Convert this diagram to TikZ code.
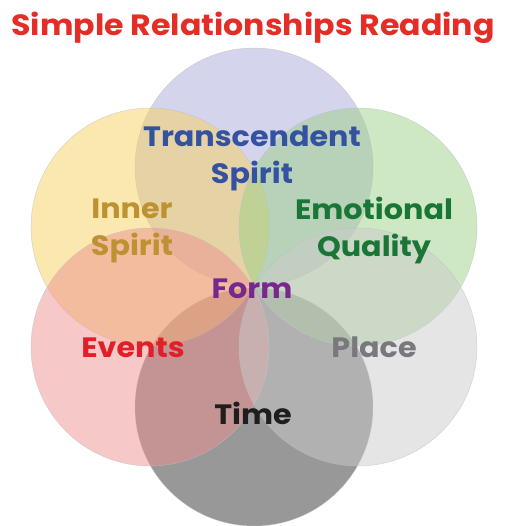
\documentclass[tikz,border=0pt]{standalone}
\usepackage{fontspec}
\setmainfont{Poppins}[FakeStretch=1.08]
\definecolor{lavender}{RGB}{169,169,217}
\definecolor{sunny}{RGB}{247,209,95}
\definecolor{leaf}{RGB}{155,209,135}
\definecolor{rose}{RGB}{239,145,145}
\definecolor{mist}{RGB}{205,203,205}
\definecolor{slate}{RGB}{50,50,50}
\definecolor{titlered}{RGB}{228,45,38}
\definecolor{spiritblue}{RGB}{52,82,160}
\definecolor{innergold}{RGB}{190,145,50}
\definecolor{emogreen}{RGB}{25,118,55}
\definecolor{formpurple}{RGB}{118,40,140}
\definecolor{eventred}{RGB}{226,30,40}
\definecolor{placegray}{RGB}{120,120,125}
\definecolor{timeblack}{RGB}{30,30,30}
\tikzset{
    petal/.style={circle,minimum size=238pt,inner sep=0pt,fill opacity=0.5,draw=black!25,draw opacity=0.6,line width=0.5pt},
    word/.style={font=\fontsize{28}{37}\selectfont\bfseries,anchor=base,align=center}
}
\begin{document}
\begin{tikzpicture}[x=1pt,y=-1pt]
            \useasboundingbox (0,0) rectangle (510,526);
            \node[petal,fill=lavender] (top) at (254,167) {};
            \node[petal,fill=slate] (bottom) at (254,407) {};
            \node[petal,fill=sunny] (upleft) at (150,227) {};
            \node[petal,fill=leaf] (upright) at (358,227) {};
            \node[petal,fill=rose] (lowleft) at (150,347) {};
            \node[petal,fill=mist] (lowright) at (358,347) {};
                \node[word,titlered,font=\fontsize{29.3}{32}\selectfont\bfseries] (title) at (253,36) {Simple Relationships Reading};
                \node[word,spiritblue] (transcendent) at (252,184) {Transcendent\\Spirit};
                \node[word,innergold] (inner) at (132,255) {Inner\\Spirit};
                \node[word,emogreen] (emotional) at (374,256) {Emotional\\Quality};
                \node[word,formpurple] (form) at (252,298) {Form};
                \node[word,eventred] (events) at (133,357) {Events};
                \node[word,placegray] (place) at (374,357) {Place};
                \node[word,timeblack] (time) at (253,424) {Time};
        \end{tikzpicture}
\end{document}
